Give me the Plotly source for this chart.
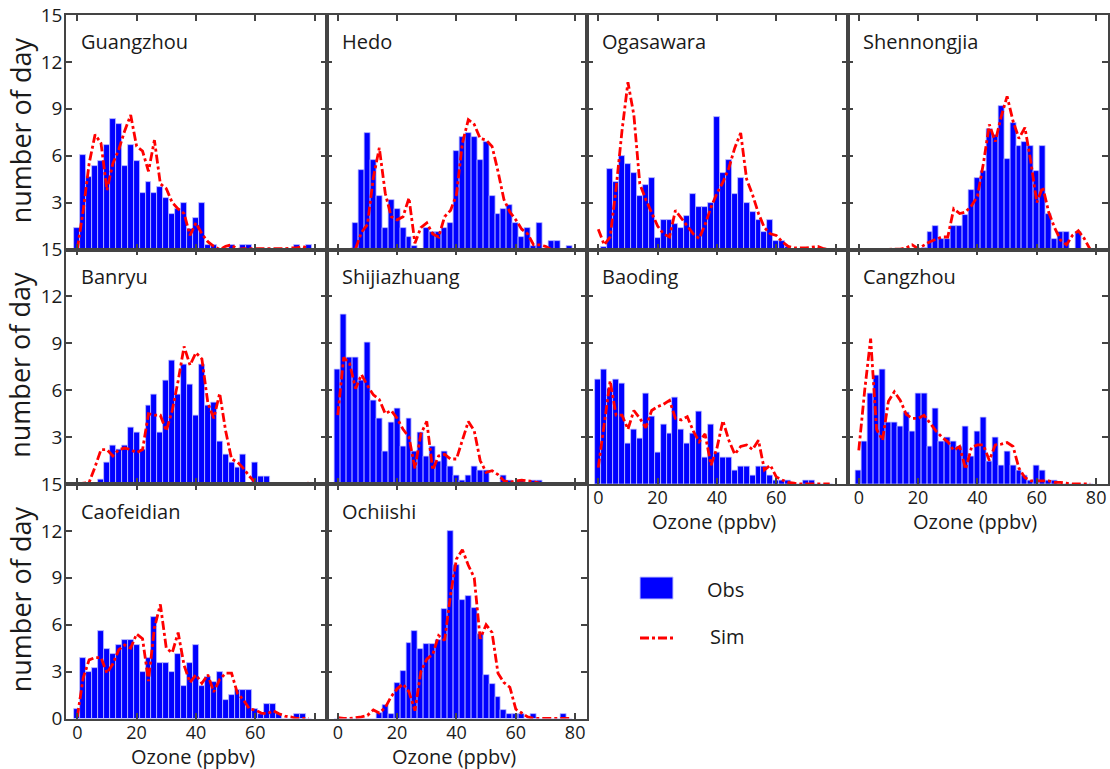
import plotly.graph_objects as go

# ---------------- data ----------------
ozone_bins = [2 * k for k in range(40)]  # bin centres, ppbv

stations = ["Guangzhou", "Hedo", "Ogasawara", "Shennongjia",
            "Banryu", "Shijiazhuang", "Baoding", "Cangzhou",
            "Caofeidian", "Ochiishi"]

obs_guangzhou = [1.35, 6.05, 4.65, 5.35, 5.65, 6.7, 8.35, 8.05, 5.35, 6.7, 5.65, 3.6, 4.35, 3.6, 4.0, 3.3, 2.3, 2.6, 3.0, 1.3,
                 2.0, 3.0, 0.3, 0.3, 0, 0, 0.3, 0, 0.3, 0.3, 0, 0, 0, 0, 0, 0, 0, 0.3, 0, 0.3]
sim_guangzhou = [0.0, 2.5, 5.5, 7.35, 6.8, 3.8, 5.5, 6.4, 7.6, 8.6, 6.6, 6.3, 5.0, 7.0, 4.2, 3.9, 3.0, 2.6, 2.3, 0.9,
                 1.7, 1.0, 0.5, 0.2, 0.0, 0.2, 0.3, 0.0, 0.05, 0.05, 0.05, 0.05, 0.05, 0.05, 0.05, 0.05, 0.1, 0.1, 0.2, 0.05]

obs_hedo = [0, 0, 0, 1.7, 5.1, 7.45, 5.7, 3.4, 1.4, 3.15, 2.6, 1.4, 0.8, 0.2, 0, 1.4, 1.1, 1.1, 1.4, 1.7,
            6.3, 7.2, 7.45, 7.2, 5.7, 6.9, 3.4, 2.3, 2.6, 2.85, 1.7, 0.8, 1.4, 0.2, 1.7, 0, 0.55, 0.55, 0, 0.25]
sim_hedo = [0, 0, 0, 0.05, 1.1, 1.6, 4.6, 6.5, 3.6, 2.1, 1.9, 2.1, 3.3, 0.4, 1.4, 1.7, 1.0, 0.8, 2.1, 2.5,
            3.5, 6.8, 8.3, 8.0, 7.1, 7.0, 6.6, 5.0, 3.2, 2.4, 1.9, 1.3, 1.0, 0.3, 0.3, 0.2, 0, 0, 0, 0]

obs_ogasawara = [0, 0.17, 5.15, 4.35, 6.0, 5.45, 4.9, 3.4, 4.1, 4.6, 0.75, 1.9, 1.9, 1.6, 1.35, 2.15, 3.55, 2.7, 2.7, 2.95,
                 8.5, 4.9, 5.75, 3.55, 4.6, 2.95, 2.4, 1.9, 1.1, 1.9, 0.55, 0.55, 0.17, 0, 0, 0, 0, 0, 0, 0]
sim_ogasawara = [1.3, 0.3, 0.8, 3.9, 7.6, 10.7, 8.6, 4.2, 3.2, 2.4, 1.5, 1.0, 0.8, 2.5, 2.0, 1.5, 1.0, 0.7, 1.6, 2.7,
                 3.6, 4.3, 5.2, 6.5, 7.45, 4.5, 3.5, 2.3, 1.4, 1.0, 0.9, 0.5, 0.2, 0.1, 0.1, 0.1, 0.15, 0.2, 0.05, 0]

obs_shennongjia = [0, 0, 0, 0, 0, 0, 0, 0, 0, 0, 0, 0.1, 1.1, 1.5, 0.7, 0.7, 1.5, 1.5, 2.2, 3.8,
                   4.6, 5.0, 7.7, 7.35, 9.2, 5.8, 8.1, 6.6, 6.9, 6.6, 5.0, 6.6, 2.3, 0.7, 1.1, 1.1, 0, 1.1, 0, 0]
sim_shennongjia = [0, 0, 0, 0.02, 0.02, 0.02, 0.02, 0.02, 0.1, 0.3, 0.05, 0.3, 0.5, 0.65, 0.8, 0.8, 2.6, 2.3, 2.4, 2.8,
                   3.4, 5.5, 8.0, 6.9, 8.5, 9.8, 8.2, 7.1, 7.8, 5.6, 3.0, 4.0, 2.4, 1.4, 0.6, 0.3, 0.9, 1.2, 0.7, 0]

obs_banryu = [0, 0, 0, 0, 0.26, 1.35, 2.45, 2.2, 2.45, 3.6, 3.3, 2.2, 5.0, 5.75, 3.3, 6.6, 7.9, 5.75, 7.65, 6.35,
              4.4, 7.65, 5.0, 5.2, 2.75, 1.9, 1.35, 1.05, 1.9, 0, 1.35, 0.5, 0.5, 0, 0, 0, 0, 0, 0, 0]
sim_banryu = [0, 0.05, 0.1, 1.1, 2.2, 2.2, 1.8, 2.2, 2.3, 2.2, 2.0, 2.2, 4.5, 4.4, 4.4, 3.4, 4.7, 6.6, 8.8, 7.6,
              8.4, 8.0, 5.2, 4.2, 5.8, 3.4, 1.6, 1.4, 1.0, 0.5, 0.1, 0, 0, 0, 0, 0, 0, 0, 0, 0.05]

obs_shijiazhuang = [7.3, 10.85, 8.1, 8.1, 6.65, 9.05, 5.35, 4.2, 2.1, 3.95, 4.8, 2.4, 4.2, 2.1, 3.3, 1.75, 2.4, 1.45, 2.1, 1.15,
                    0.55, 0.25, 0.55, 1.15, 0.85, 0.85, 0, 0, 0.55, 0.25, 0, 0.25, 0, 0.25, 0.25, 0, 0, 0, 0, 0]
sim_shijiazhuang = [4.4, 8.1, 7.7, 6.1, 7.0, 6.3, 5.7, 5.4, 4.5, 4.7, 4.2, 3.5, 3.0, 1.0, 3.2, 4.0, 0.9, 1.8, 1.9, 1.6,
                    1.6, 2.8, 4.0, 3.4, 1.5, 0.75, 0.85, 0.6, 0.2, 0.1, 0.2, 0.25, 0.2, 0.15, 0.05, 0, 0, 0, 0, 0]

obs_baoding = [6.7, 7.3, 6.1, 6.7, 6.4, 2.6, 3.5, 2.9, 5.8, 4.35, 2.0, 3.8, 3.2, 5.55, 3.5, 2.6, 3.2, 4.65, 1.7, 3.8,
               2.0, 1.7, 1.7, 0.85, 1.15, 1.15, 0.55, 1.15, 1.15, 0.55, 0.25, 0.25, 0.25, 0, 0, 0.25, 0.25, 0, 0, 0]
sim_baoding = [1.05, 4.0, 6.6, 4.4, 4.4, 3.5, 4.7, 4.2, 3.6, 4.7, 4.95, 5.1, 5.35, 4.2, 4.1, 4.3, 3.4, 2.7, 3.2, 1.2,
               2.3, 4.05, 2.8, 1.9, 2.4, 2.5, 2.2, 2.8, 0.9, 1.2, 0.45, 0.25, 0.1, 0.05, 0, 0, 0, 0, 0, 0]

obs_cangzhou = [0.85, 2.7, 5.8, 6.95, 7.3, 3.95, 3.95, 3.65, 4.55, 3.35, 5.8, 5.8, 2.4, 4.8, 2.7, 3.0, 2.7, 2.4, 3.65, 1.75,
                3.35, 4.25, 1.45, 3.0, 1.2, 2.1, 1.2, 0.85, 0.55, 0.25, 1.2, 0.85, 0.25, 0.25, 0, 0, 0, 0, 0, 0]
sim_cangzhou = [2.15, 6.0, 9.3, 3.5, 2.8, 5.3, 5.9, 5.35, 4.45, 4.2, 4.2, 4.4, 3.9, 3.4, 3.0, 2.7, 2.15, 2.4, 0.95, 2.35,
                2.5, 2.5, 1.5, 2.5, 2.55, 2.65, 2.4, 1.0, 0.4, 0.2, 0.2, 0.2, 0.2, 0.1, 0.1, 0.05, 0, 0, 0, 0]

obs_caofeidian = [0.6, 3.85, 2.95, 3.25, 5.6, 4.45, 4.15, 4.7, 5.0, 5.0, 4.7, 2.95, 3.85, 6.5, 3.55, 3.55, 2.95, 4.15, 2.05, 3.55,
                  4.7, 2.05, 2.65, 2.35, 2.95, 1.2, 1.5, 1.8, 1.8, 1.8, 0.6, 0.3, 0.9, 0.9, 0.3, 0, 0, 0.3, 0.3, 0]
sim_caofeidian = [0.1, 2.6, 3.75, 3.9, 3.9, 2.9, 3.5, 4.4, 4.7, 4.5, 5.4, 5.1, 2.4, 5.8, 7.3, 4.5, 4.2, 5.5, 3.4, 2.3,
                  2.8, 2.25, 2.8, 1.7, 2.5, 2.9, 2.9, 1.6, 1.2, 0.6, 0.55, 0.35, 0.3, 0.5, 0.3, 0.15, 0.1, 0, 0, 0]

obs_ochiishi = [0, 0, 0, 0, 0, 0, 0, 0.35, 0.85, 0.3, 2.25, 3.05, 4.8, 5.6, 4.45, 4.75, 4.75, 5.05, 7.0, 12.0,
                9.8, 7.6, 7.85, 7.05, 5.4, 2.8, 2.2, 1.4, 0.55, 0.3, 0.3, 0.3, 0, 0.3, 0, 0, 0, 0, 0.3, 0]
sim_ochiishi = [0.05, 0, 0, 0.05, 0.1, 0.2, 0.55, 0.35, 0.7, 1.4, 1.9, 2.2, 1.7, 0.5, 3.0, 3.8, 4.1, 5.3, 5.0, 7.9,
                10.2, 10.8, 9.8, 9.0, 5.1, 6.0, 5.5, 2.9, 2.3, 2.0, 0.6, 0.35, 0.1, 0, 0, 0, 0, 0, 0, 0]

obs_series = [obs_guangzhou, obs_hedo, obs_ogasawara, obs_shennongjia, obs_banryu,
              obs_shijiazhuang, obs_baoding, obs_cangzhou, obs_caofeidian, obs_ochiishi]
sim_series = [sim_guangzhou, sim_hedo, sim_ogasawara, sim_shennongjia, sim_banryu,
              sim_shijiazhuang, sim_baoding, sim_cangzhou, sim_caofeidian, sim_ochiishi]

y_ticks = [0, 3, 6, 9, 12, 15]
x_ticks = [0, 20, 40, 60, 80]

# ---------------- layout geometry ----------------
W, H = 1110, 769
col_left = [66, 326.5, 587, 847.5]
cw = 260.5
row_top = [15, 249.5, 484]
rh = 234.5
FONT = "Open Sans"
TXT = "#1a1a1a"
FRAME = "#444444"
BLUE = "#0000FF"
RED = "#FF0000"

# panel index -> (row, col)
positions = [(0, 0), (0, 1), (0, 2), (0, 3),
             (1, 0), (1, 1), (1, 2), (1, 3),
             (2, 0), (2, 1)]
bottom_labeled = {6: ["0", "20", "40", "60", ""], 7: ["0", "20", "40", "60", "80"],
                  8: ["0", "20", "40", "60", ""], 9: ["0", "20", "40", "60", "80"]}

fig = go.Figure()
annotations = []

for i, (name, obs, sim) in enumerate(zip(stations, obs_series, sim_series)):
    r, c = positions[i]
    n = i + 1
    xa = "x" if n == 1 else f"x{n}"
    ya = "y" if n == 1 else f"y{n}"
    fig.add_trace(go.Bar(x=ozone_bins, y=obs, width=2, xaxis=xa, yaxis=ya,
                         marker=dict(color=BLUE, line=dict(color="#c4c4ff", width=0.8)),
                         name="Obs", showlegend=False))
    fig.add_trace(go.Scatter(x=ozone_bins, y=sim, mode="lines", xaxis=xa, yaxis=ya,
                             line=dict(color=RED, width=2.8, dash="dashdot"),
                             name="Sim", showlegend=False))

    left = col_left[c]
    top = row_top[r]
    xdom = [left / W, (left + cw) / W]
    ydom = [1 - (top + rh) / H, 1 - top / H]

    show_x = i in bottom_labeled
    xaxis = dict(domain=xdom, range=[-3.8, 84], anchor=ya, automargin=False,
                 tickmode="array", tickvals=x_ticks,
                 ticktext=bottom_labeled.get(i, [""] * 5),
                 showticklabels=show_x, ticks="inside", ticklen=6, tickwidth=1.5,
                 tickcolor=FRAME, showline=True, linecolor=FRAME, linewidth=1.5,
                 mirror="ticks", showgrid=False, zeroline=False,
                 tickfont=dict(family=FONT, size=18, color=TXT),
                 ticklabelstandoff=-3)
    if c == 0:
        ytext = [str(v) for v in y_ticks] if r == 2 else [""] + [str(v) for v in y_ticks[1:]]
        show_y = True
    else:
        ytext = [""] * len(y_ticks)
        show_y = False
    yaxis = dict(domain=ydom, range=[0, 15], anchor=xa, automargin=False,
                 tickmode="array", tickvals=y_ticks, ticktext=ytext,
                 showticklabels=show_y, ticks="inside", ticklen=6, tickwidth=1.5,
                 tickcolor=FRAME, showline=True, linecolor=FRAME, linewidth=1.5,
                 mirror="ticks", showgrid=False, zeroline=False,
                 tickfont=dict(family=FONT, size=19, color=TXT),
                 ticklabelstandoff=-2)
    fig.update_layout(**{("xaxis" if n == 1 else f"xaxis{n}"): xaxis,
                         ("yaxis" if n == 1 else f"yaxis{n}"): yaxis})

    # panel title
    annotations.append(dict(text=name, xref="paper", yref="paper",
                            x=(left + 13) / W, y=1 - (top + 27) / H,
                            xanchor="left", yanchor="middle", showarrow=False,
                            font=dict(family=FONT, size=20, color=TXT)))
    # x-axis title
    if show_x:
        annotations.append(dict(text="Ozone (ppbv)", xref="paper", yref="paper",
                                x=(left + cw / 2 - 3) / W, y=1 - (top + rh + 37.5) / H,
                                xanchor="center", yanchor="middle", showarrow=False,
                                font=dict(family=FONT, size=20, color=TXT)))
    # y-axis title
    if c == 0:
        annotations.append(dict(text="number of day", xref="paper", yref="paper",
                                x=20 / W, y=1 - (top + rh / 2 - 2) / H, textangle=-90,
                                xanchor="center", yanchor="middle", showarrow=False,
                                font=dict(family=FONT, size=27, color=TXT)))

# ---------------- legend (drawn) ----------------
shapes = [
    dict(type="rect", xref="paper", yref="paper",
         x0=640 / W, x1=673 / W, y0=1 - 599 / H, y1=1 - 577 / H,
         fillcolor=BLUE, line=dict(color="#c4c4ff", width=1)),
    dict(type="line", xref="paper", yref="paper",
         x0=640 / W, x1=673 / W, y0=1 - 638 / H, y1=1 - 638 / H,
         line=dict(color=RED, width=2.8, dash="dashdot")),
]
annotations.append(dict(text="Obs", xref="paper", yref="paper", x=705 / W, y=1 - 589 / H,
                        xanchor="left", yanchor="middle", showarrow=False,
                        font=dict(family=FONT, size=20, color=TXT)))
annotations.append(dict(text="Sim", xref="paper", yref="paper", x=708 / W, y=1 - 636 / H,
                        xanchor="left", yanchor="middle", showarrow=False,
                        font=dict(family=FONT, size=20, color=TXT)))

fig.update_layout(width=W, height=H, margin=dict(l=0, r=0, t=0, b=0, pad=0),
                  paper_bgcolor="white", plot_bgcolor="white",
                  bargap=0, showlegend=False,
                  annotations=annotations, shapes=shapes,
                  font=dict(family=FONT, color=TXT))

fig.write_html("out.html", config={"displayModeBar": False},
               post_script="document.body.style.margin='0px';")
